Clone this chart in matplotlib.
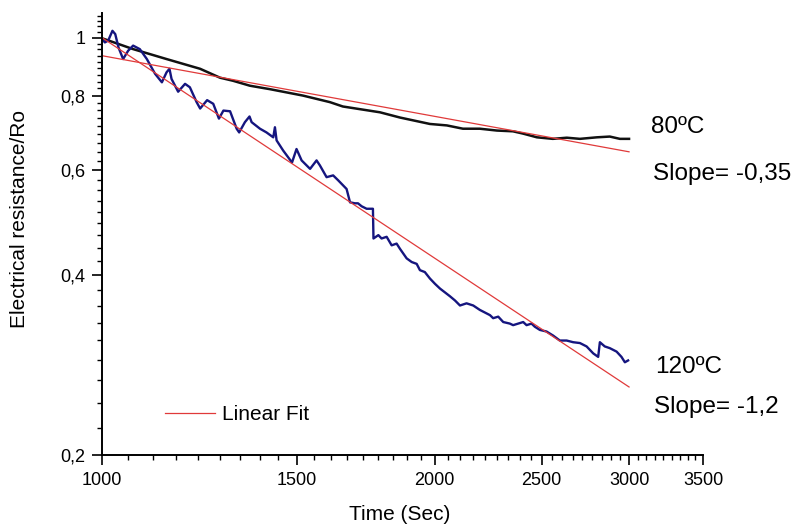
import matplotlib
matplotlib.use("Agg")
import matplotlib.pyplot as plt
import numpy as np
from matplotlib.ticker import FixedLocator, FixedFormatter, NullFormatter

plt.rcParams['font.family'] = ['Liberation Sans', 'DejaVu Sans']

# 120 C curve
t120 = [1000, 1006, 1013, 1022, 1028, 1035, 1045, 1056, 1067, 1082, 1098, 1117,
        1133, 1144, 1151, 1156, 1172, 1189, 1201, 1218, 1227, 1245, 1261, 1276,
        1288, 1306, 1324, 1331, 1347, 1360, 1366, 1390, 1409, 1429, 1434, 1439,
        1459, 1486, 1500, 1516, 1543, 1564, 1575, 1597, 1619, 1636, 1665, 1677,
        1694, 1705, 1718, 1736, 1759, 1761, 1779, 1791, 1810, 1829, 1848, 1861,
        1887, 1907, 1927, 1940, 1960, 1981, 2002, 2023, 2065, 2087, 2109, 2138,
        2168, 2198, 2245, 2260, 2284, 2308, 2340, 2356, 2381, 2406, 2423, 2448,
        2465, 2491, 2526, 2561, 2597, 2634, 2670, 2708, 2746, 2784, 2813, 2823,
        2852, 2882, 2923, 2953, 2974, 2994]
r120 = [0.996, 0.982, 0.989, 1.027, 1.014, 0.963, 0.921, 0.951, 0.970, 0.957, 0.921, 0.870,
        0.842, 0.875, 0.887, 0.853, 0.812, 0.837, 0.826, 0.780, 0.761, 0.786, 0.775, 0.732,
        0.755, 0.753, 0.704, 0.694, 0.722, 0.738, 0.722, 0.704, 0.694, 0.681, 0.708, 0.673,
        0.647, 0.618, 0.651, 0.623, 0.603, 0.623, 0.611, 0.584, 0.588, 0.577, 0.558, 0.530,
        0.528, 0.528, 0.522, 0.517, 0.517, 0.461, 0.467, 0.461, 0.464, 0.449, 0.452, 0.443,
        0.427, 0.421, 0.418, 0.408, 0.405, 0.395, 0.387, 0.380, 0.369, 0.363, 0.356, 0.359,
        0.356, 0.350, 0.343, 0.339, 0.341, 0.334, 0.332, 0.330, 0.332, 0.334, 0.330, 0.332,
        0.328, 0.324, 0.322, 0.317, 0.311, 0.311, 0.309, 0.308, 0.304, 0.296, 0.292, 0.309,
        0.304, 0.302, 0.298, 0.292, 0.286, 0.288]

# 80 C curve
t80 = [1000, 1067, 1144, 1227, 1279, 1314, 1361, 1419, 1520, 1608, 1652, 1785, 1861,
       1981, 2052, 2122, 2198, 2278, 2355, 2404, 2476, 2559, 2635, 2708, 2805, 2882,
       2943, 3000]
r80 = [0.998, 0.957, 0.921, 0.887, 0.857, 0.847, 0.831, 0.820, 0.800, 0.780, 0.767, 0.750, 0.735,
       0.717, 0.713, 0.704, 0.704, 0.699, 0.697, 0.691, 0.681, 0.677, 0.680, 0.677, 0.681, 0.683,
       0.677, 0.677]

# linear fits (end points, log-log)
fit_t = [1000, 3000]
fit80 = [0.933, 0.644]
fit120 = [1.0, 0.26]

y_major = [0.2, 0.4, 0.6, 0.8, 1.0]
y_labels = ['0,2', '0,4', '0,6', '0,8', '1']
x_major = [1000, 1500, 2000, 2500, 3000, 3500]
x_labels = ['1000', '1500', '2000', '2500', '3000', '3500']

fig = plt.figure(figsize=(7.94, 5.25), dpi=100)
ax = fig.add_axes([102/794, 70/525, 601/794, 442/525])

red = '#e03a3a'
ax.plot(t80, r80, color='#111111', lw=1.8)
ax.plot(t120, r120, color='#15157f', lw=1.7)
ax.plot(fit_t, fit80, color=red, lw=0.9)
fit_line, = ax.plot(fit_t, fit120, color=red, lw=0.9, label='Linear Fit')

ax.set_xscale('log')
ax.set_yscale('log')
ax.set_xlim(1000, 3500)
ax.set_ylim(0.2, 1.1)

ax.xaxis.set_major_locator(FixedLocator(x_major))
ax.xaxis.set_major_formatter(FixedFormatter(x_labels))
xm = np.arange(1000, 3500.1, 500/9)
ax.xaxis.set_minor_locator(FixedLocator(xm))
ax.xaxis.set_minor_formatter(NullFormatter())

ax.yaxis.set_major_locator(FixedLocator(y_major))
ax.yaxis.set_major_formatter(FixedFormatter(y_labels))
ym = np.arange(0.2, 1.101, 0.2/9)
ax.yaxis.set_minor_locator(FixedLocator(ym))
ax.yaxis.set_minor_formatter(NullFormatter())

for s in ['top', 'right']:
    ax.spines[s].set_visible(False)
for s in ['left', 'bottom']:
    ax.spines[s].set_linewidth(1.4)
ax.tick_params(which='major', direction='out', length=7, width=1.2, labelsize=13, pad=5)
ax.tick_params(which='minor', direction='out', length=3.8, width=1.0)

fig.text(20/794, 1 - 219/525, 'Electrical resistance/Ro', rotation=90,
         ha='center', va='center', fontsize=15)
fig.text(400/794, 1 - 520/525, 'Time (Sec)', ha='center', va='baseline', fontsize=15)

fig.text(651/794, 1 - 133/525, '80ºC', ha='left', va='baseline', fontsize=17.5)
fig.text(653/794, 1 - 180/525, 'Slope= -0,35', ha='left', va='baseline', fontsize=17.5)
fig.text(655/794, 1 - 373/525, '120ºC', ha='left', va='baseline', fontsize=17.5)
fig.text(654/794, 1 - 413/525, 'Slope= -1,2', ha='left', va='baseline', fontsize=17.5)

ax.legend(handles=[fit_line], loc='center left', bbox_to_anchor=(165/794, 1 - 415/525),
          bbox_transform=fig.transFigure, frameon=False, fontsize=15,
          handlelength=2.4, handletextpad=0.35, borderpad=0, borderaxespad=0)

fig.savefig('out.png', dpi=100)
